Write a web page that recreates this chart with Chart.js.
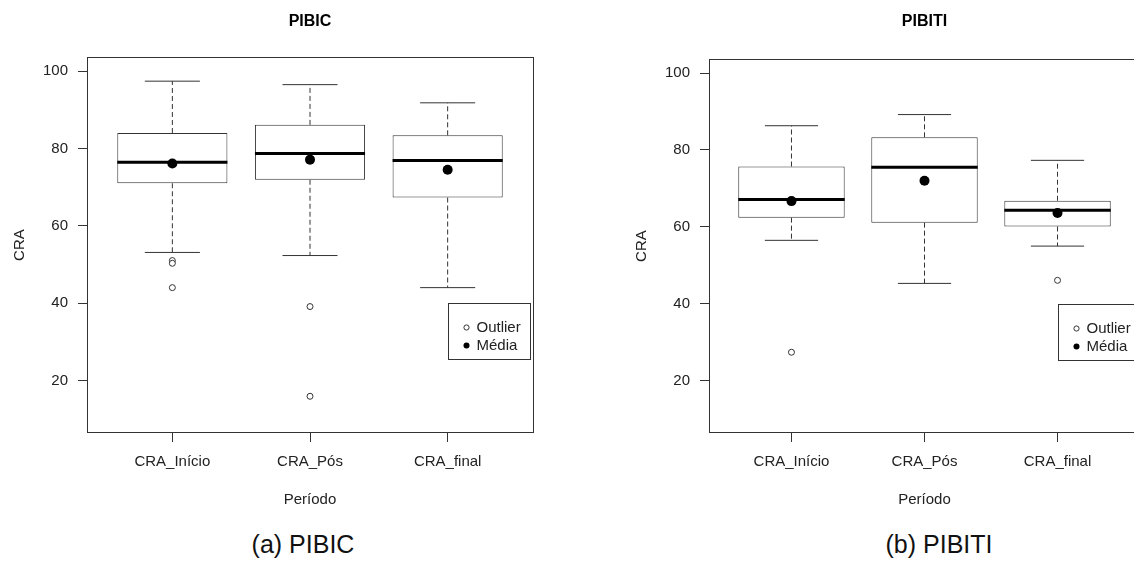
<!DOCTYPE html>
<html>
<head>
<meta charset="utf-8">
<script src="https://cdn.jsdelivr.net/npm/chart.js@4"></script>
<style>
html, body { margin: 0; padding: 0; background: #fff; overflow: hidden; width: 1134px; height: 563px; }
canvas { position: absolute; top: 0; }
#pibic { left: 0; }
#pibiti { left: 600px; }
.caption { position: absolute; top: 530px; width: 300px; text-align: center; line-height: 30px;
  font: 25px 'Liberation Sans', Arial, sans-serif; color: #111; }
</style>
</head>
<body>
<canvas id="pibic" width="560" height="520"></canvas>
<canvas id="pibiti" width="600" height="520"></canvas>
<div class="caption" style="left:153px">(a) PIBIC</div>
<div class="caption" style="left:789px">(b) PIBITI</div>
<script>
var categories = ['CRA_Início', 'CRA_Pós', 'CRA_final'];
var yTicks = [20, 40, 60, 80, 100];

// PIBIC
var pibicMin = [53.1, 52.3, 44.0];
var pibicQ1 = [71.0, 71.9, 67.3];
var pibicMedian = [76.4, 78.7, 76.9];
var pibicQ3 = [84.0, 86.1, 83.4];
var pibicMax = [97.4, 96.5, 91.8];
var pibicMean = [76.1, 77.1, 74.5];
var pibicOutliers = [[51.0, 50.3, 44.0], [39.1, 15.9], []];

// PIBITI
var pibitiMin = [56.5, 45.3, 55.0];
var pibitiQ1 = [62.4, 61.1, 60.1];
var pibitiMedian = [67.1, 75.5, 64.3];
var pibitiQ3 = [75.7, 83.3, 66.8];
var pibitiMax = [86.3, 89.2, 77.3];
var pibitiMean = [66.7, 72.0, 63.6];
var pibitiOutliers = [[27.4], [], [46.1]];

var FONT = "'Liberation Sans', Arial, sans-serif";
var INK = '#333';

// frame round the plot region, like R's box()
var frame = {
    id: 'frame',
    afterDraw: function (chart) {
        var a = chart.chartArea, ctx = chart.ctx;
        ctx.save();
        ctx.strokeStyle = INK;
        ctx.lineWidth = 1;
        ctx.strokeRect(Math.round(a.left) + 0.5, Math.round(a.top) + 0.5,
            Math.round(a.right - a.left), Math.round(a.bottom - a.top) - 1);
        ctx.restore();
    }
};

// legend box anchored at a data position (top-left corner)
var cornerLegend = {
    id: 'cornerLegend',
    afterDatasetsDraw: function (chart, args, opts) {
        var ctx = chart.ctx;
        var x0 = Math.round(chart.scales.x.getPixelForValue(opts.x)) + 0.5;
        var y0 = Math.round(chart.scales.y.getPixelForValue(opts.y)) + 0.5;
        ctx.save();
        ctx.fillStyle = '#fff';
        ctx.strokeStyle = INK;
        ctx.lineWidth = 1;
        ctx.fillRect(x0, y0, 82, 56);
        ctx.strokeRect(x0, y0, 82, 56);
        ctx.font = '15px ' + FONT;
        ctx.textBaseline = 'middle';
        ctx.fillStyle = '#222';
        ctx.fillText('Outlier', x0 + 28, y0 + 24);
        ctx.fillText('Média', x0 + 28, y0 + 42);
        ctx.beginPath();
        ctx.arc(x0 + 18, y0 + 24, 2.6, 0, Math.PI * 2);
        ctx.fillStyle = '#fff';
        ctx.fill();
        ctx.stroke();
        ctx.beginPath();
        ctx.arc(x0 + 18, y0 + 42, 3, 0, Math.PI * 2);
        ctx.fillStyle = '#000';
        ctx.fill();
        ctx.restore();
    }
};

function boxplotDatasets(s) {
    var boxes = [], whiskers = [], caps = [], medians = [], means = [], outliers = [];
    categories.forEach(function (c, i) {
        var x = i + 1;
        boxes.push({ x: x, y: [s.q1[i], s.q3[i]] });
        whiskers.push({ x: x, y: s.q3[i] }, { x: x, y: s.max[i] }, { x: x, y: null },
            { x: x, y: s.q1[i] }, { x: x, y: s.min[i] }, { x: x, y: null });
        caps.push({ x: x - 0.2, y: s.max[i] }, { x: x + 0.2, y: s.max[i] }, { x: x, y: null },
            { x: x - 0.2, y: s.min[i] }, { x: x + 0.2, y: s.min[i] }, { x: x, y: null });
        medians.push({ x: x - 0.4, y: s.median[i] }, { x: x + 0.4, y: s.median[i] }, { x: x, y: null });
        means.push({ x: x, y: s.mean[i] });
        s.outliers[i].forEach(function (v) { outliers.push({ x: x, y: v }); });
    });
    return [
        { type: 'bar', data: boxes, backgroundColor: '#fff', borderColor: INK, borderWidth: 1,
          borderSkipped: false, barPercentage: 1, categoryPercentage: 0.8, order: 5 },
        { type: 'line', data: whiskers, borderColor: INK, borderWidth: 1, borderDash: [5, 3],
          pointRadius: 0, spanGaps: false, order: 4 },
        { type: 'line', data: caps, borderColor: INK, borderWidth: 1, pointRadius: 0, spanGaps: false, order: 4 },
        { type: 'line', data: medians, borderColor: '#000', borderWidth: 3, pointRadius: 0, spanGaps: false, order: 2 },
        { type: 'line', data: outliers, showLine: false, pointRadius: 3, pointBorderWidth: 1,
          pointBorderColor: INK, pointBackgroundColor: '#fff', order: 1 },
        { type: 'line', data: means, showLine: false, pointRadius: 5, pointBorderWidth: 0,
          pointBackgroundColor: '#000', order: 1 }
    ];
}

function makeChart(id, title, s, pad, titleBottom) {
    return new Chart(document.getElementById(id).getContext('2d'), {
        type: 'bar',
        data: { datasets: boxplotDatasets(s) },
        options: {
            responsive: false,
            animation: false,
            layout: { padding: pad },
            scales: {
                x: {
                    type: 'linear', min: 0.38, max: 3.62, offset: false,
                    afterBuildTicks: function (scale) {
                        scale.ticks = categories.map(function (c, i) { return { value: i + 1 }; });
                    },
                    afterFit: function (scale) { scale.height = 80; },
                    ticks: {
                        callback: function (v) { return categories[v - 1]; },
                        font: { family: FONT, size: 15 }, color: '#222', padding: 11,
                        maxRotation: 0, autoSkip: false
                    },
                    grid: { offset: false, drawOnChartArea: false, drawTicks: true, tickLength: 9, color: INK },
                    border: { display: false },
                    title: { display: true, text: 'Período', font: { family: FONT, size: 15 }, color: '#222',
                             padding: { top: 0, bottom: 4 } }
                },
                y: {
                    type: 'linear', min: 6.4, max: 103.6, beginAtZero: false,
                    afterBuildTicks: function (scale) {
                        scale.ticks = yTicks.map(function (v) { return { value: v }; });
                    },
                    afterFit: function (scale) { scale.width = 87; },
                    ticks: {
                        callback: function (v) { return String(v); },
                        font: { family: FONT, size: 15 }, color: '#222', padding: 10
                    },
                    grid: { drawOnChartArea: false, drawTicks: true, tickLength: 9, color: INK },
                    border: { display: false },
                    title: { display: true, text: 'CRA', font: { family: FONT, size: 15 }, color: '#222',
                             padding: { top: 11, bottom: 0 } }
                }
            },
            plugins: {
                legend: { display: false },
                tooltip: { enabled: false },
                title: {
                    display: true, text: title, fullSize: false, color: '#000',
                    font: { family: FONT, size: 16, weight: 'bold' },
                    padding: { top: 12, bottom: titleBottom }
                },
                cornerLegend: { x: 3, y: 40 }
            }
        },
        plugins: [frame, cornerLegend]
    });
}

makeChart('pibic', 'PIBIC', {
    min: pibicMin, q1: pibicQ1, median: pibicMedian, q3: pibicQ3, max: pibicMax,
    mean: pibicMean, outliers: pibicOutliers
}, { left: 0, right: 27, top: 0, bottom: 7 }, 26);

makeChart('pibiti', 'PIBITI', {
    min: pibitiMin, q1: pibitiQ1, median: pibitiMedian, q3: pibitiQ3, max: pibitiMax,
    mean: pibitiMean, outliers: pibitiOutliers
}, { left: 22, right: 60, top: 0, bottom: 7 }, 28);
</script>
</body>
</html>
